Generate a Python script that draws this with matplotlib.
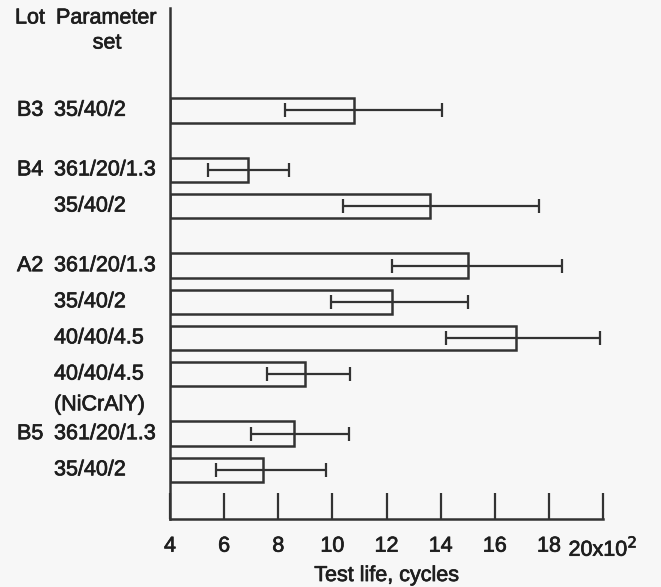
import matplotlib
matplotlib.use("Agg")
import matplotlib.pyplot as plt
import matplotlib.transforms as mtransforms
import matplotlib.patheffects as pe
import numpy as np

plt.rcParams['font.family'] = ['Liberation Sans', 'DejaVu Sans']

# Data (test life in units of 10^2 cycles)
lots = ["B3", "B4", "", "A2", "", "", "", "B5", ""]
params = ["35/40/2", "361/20/1.3", "35/40/2", "361/20/1.3", "35/40/2",
          "40/40/4.5", "40/40/4.5\n(NiCrAlY)", "361/20/1.3", "35/40/2"]
group_id = [0, 1, 1, 2, 2, 2, 2, 3, 3]
mean_life = [10.8, 6.9, 13.6, 15.0, 12.2, 16.8, 9.0, 8.6, 7.45]
err_low = [8.25, 5.4, 10.4, 12.2, 9.95, 14.2, 7.6, 7.0, 5.7]
err_high = [14.05, 8.4, 17.65, 18.5, 15.0, 19.9, 10.65, 10.6, 9.75]
xticks = [4, 6, 8, 10, 12, 14, 16, 18, 20]
xticklabels = ["4", "6", "8", "10", "12", "14", "16", "18", "20x10$^2$"]

W, H = 661, 587
fig = plt.figure(figsize=(W / 100, H / 100), dpi=100)
bg = "#f7f7f7"
fig.patch.set_facecolor(bg)
ink = "#333333"
tcol = "#1e1e1e"
fs = 15.5
fx = [pe.withStroke(linewidth=0.5, foreground=tcol)]

ax_left, ax_right, ax_top, ax_bot = 170, 603, 8, 519
ax = fig.add_axes([ax_left / W, 1 - ax_bot / H, (ax_right - ax_left) / W, (ax_bot - ax_top) / H])
ax.set_facecolor(bg)

# y positions: 1 unit within group, larger gap between groups
pos = []
y = 0.0
for i, g in enumerate(group_id):
    if i > 0:
        y += 1.0 if g == group_id[i - 1] else 1.65
    pos.append(y)
pos = np.array(pos)

base = 4
widths = np.array(mean_life) - base
ax.barh(pos, widths, left=base, height=0.68, facecolor=bg, edgecolor=ink, linewidth=1.8, zorder=2)
xerr = np.vstack([np.array(mean_life) - np.array(err_low), np.array(err_high) - np.array(mean_life)])
ax.errorbar(mean_life, pos, xerr=xerr, fmt='none', ecolor=ink, elinewidth=1.6, capsize=4.8, capthick=1.6, zorder=3)

ax.set_xlim(4, 20)
ax.set_ylim(pos[-1] + 1.36, pos[0] - 2.83)
ax.spines['top'].set_visible(False)
ax.spines['right'].set_visible(False)
for s in ['left', 'bottom']:
    ax.spines[s].set_color(ink)
    ax.spines[s].set_linewidth(1.8)
ax.set_yticks([])
ax.set_xticks(xticks)
ax.set_xticklabels(xticklabels)
ax.tick_params(axis='x', direction='in', length=19, width=1.6, color=ink, pad=12, labelsize=fs, labelcolor=tcol)
for lab in ax.get_xticklabels():
    lab.set_path_effects(fx)
ax.set_xlabel("Test life, cycles", fontsize=fs, color=tcol, labelpad=3, path_effects=fx)

trans = mtransforms.blended_transform_factory(fig.transFigure, ax.transData)
for p, lot, prm in zip(pos, lots, params):
    if lot:
        ax.text(17 / W, p, lot, transform=trans, ha='left', va='center', fontsize=fs, color=tcol, path_effects=fx)
    lines = prm.split("\n")
    ax.text(54 / W, p, lines[0], transform=trans, ha='left', va='center', fontsize=fs, color=tcol, path_effects=fx)
    if len(lines) > 1:
        ax.text(54 / W, p + 0.85, lines[1], transform=trans, ha='left', va='center', fontsize=fs, color=tcol, path_effects=fx)

fig.text(15 / W, 1 - 18 / H, "Lot", ha='left', va='center', fontsize=fs, color=tcol, path_effects=fx)
fig.text(56 / W, 1 - 18 / H, "Parameter", ha='left', va='center', fontsize=fs, color=tcol, path_effects=fx)
fig.text(107 / W, 1 - 43 / H, "set", ha='center', va='center', fontsize=fs, color=tcol, path_effects=fx)

fig.savefig("out.png", dpi=100, facecolor=bg)
